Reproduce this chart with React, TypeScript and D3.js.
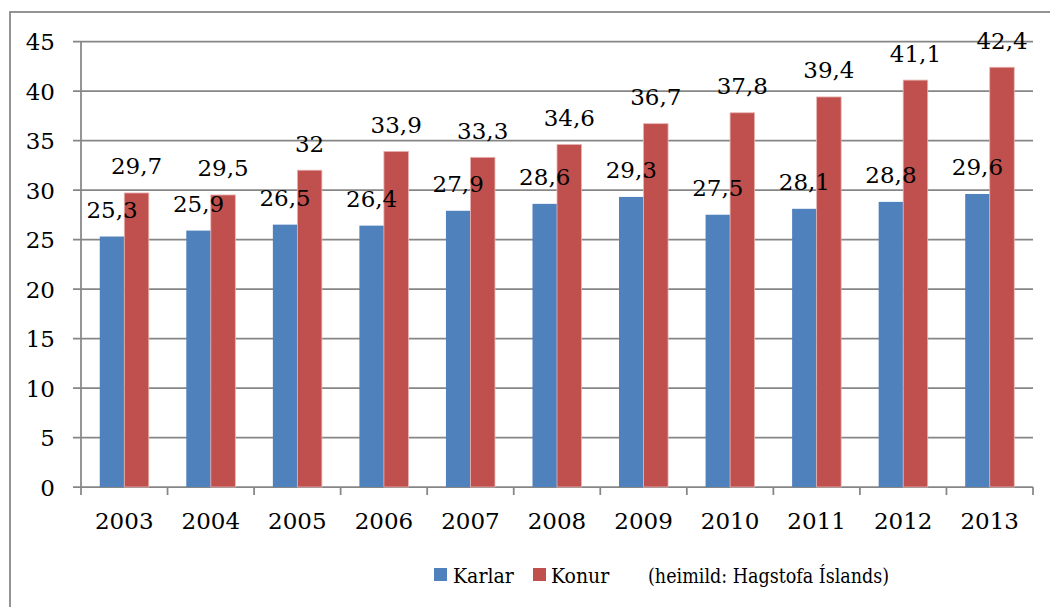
import React, { useEffect, useRef } from 'react'
import * as d3 from 'd3'

// Hlutfall (%) eftir árum – Karlar / Konur
const years = ['2003', '2004', '2005', '2006', '2007', '2008', '2009', '2010', '2011', '2012', '2013']
const karlar = [25.3, 25.9, 26.5, 26.4, 27.9, 28.6, 29.3, 27.5, 28.1, 28.8, 29.6]
const konur = [29.7, 29.5, 32, 33.9, 33.3, 34.6, 36.7, 37.8, 39.4, 41.1, 42.4]
const seriesNames = ['Karlar', 'Konur']
const yTicks = [0, 5, 10, 15, 20, 25, 30, 35, 40, 45]
const sourceNote = '(heimild: Hagstofa Íslands)'

const colors = { Karlar: '#4F81BD', Konur: '#C0504D' }

const W = 1050
const H = 607
const FONT = '"DejaVu Serif", "Liberation Serif", serif'
const LEGEND_FONT = '"DejaVu Serif Condensed", "DejaVu Serif", serif'

const App = () => {
  const svgRef = useRef<SVGSVGElement>(null)

  useEffect(() => {
    document.body.style.margin = '0'
    const svg = d3.select(svgRef.current)
    svg.selectAll('*').remove()

    const left = 81
    const right = 1033
    const top = 41.5
    const bottom = 487

    // outer chart frame (clipped at right/bottom like the original)
    svg.append('rect')
      .attr('x', 10)
      .attr('y', 12)
      .attr('width', W)
      .attr('height', H)
      .style('fill', '#fff')
      .style('stroke', '#868686')
      .style('stroke-width', 1.75)

    const x = d3.scaleBand<string>().domain(years).range([left, right]).padding(0)
    const x1 = d3.scaleBand<string>()
      .domain(seriesNames)
      .range([0, x.bandwidth()])
      .paddingInner(0)
      .paddingOuter(0.765)
    const y = d3.scaleLinear().domain([0, 45]).range([bottom, top])

    const g = svg.append('g')

    // gridlines
    g.selectAll('.grid')
      .data(yTicks)
      .enter()
      .append('line')
      .attr('x1', left - 8)
      .attr('x2', right)
      .attr('y1', d => y(d))
      .attr('y2', d => y(d))
      .style('stroke', '#868686')
      .style('stroke-width', 1.75)

    // y axis line
    g.append('line')
      .attr('x1', left)
      .attr('x2', left)
      .attr('y1', top)
      .attr('y2', bottom)
      .style('stroke', '#868686')
      .style('stroke-width', 1.75)

    // x ticks on category boundaries
    const boundaries = years.map(d => x(d) as number).concat([right])
    g.selectAll('.xtick')
      .data(boundaries)
      .enter()
      .append('line')
      .attr('x1', d => d)
      .attr('x2', d => d)
      .attr('y1', bottom)
      .attr('y2', bottom + 8)
      .style('stroke', '#868686')
      .style('stroke-width', 1.75)

    // y labels
    g.selectAll('.ylabel')
      .data(yTicks)
      .enter()
      .append('text')
      .attr('x', 55)
      .attr('y', d => y(d))
      .attr('dy', '0.38em')
      .attr('text-anchor', 'end')
      .style('font-family', FONT)
      .style('font-size', '23px')
      .style('fill', '#000')
      .text(d => d)

    // x labels
    g.selectAll('.xlabel')
      .data(years)
      .enter()
      .append('text')
      .attr('x', d => (x(d) as number) + x.bandwidth() / 2)
      .attr('y', 529)
      .attr('text-anchor', 'middle')
      .style('font-family', FONT)
      .style('font-size', '23px')
      .style('fill', '#000')
      .text(d => d)

    const rows = years.map((yr, i) => ({ yr, Karlar: karlar[i], Konur: konur[i] }))

    const groups = g.selectAll('.group')
      .data(rows)
      .enter()
      .append('g')
      .attr('transform', d => `translate(${x(d.yr)},0)`)

    // bars
    seriesNames.forEach(s => {
      groups.append('rect')
        .attr('x', x1(s) as number)
        .attr('y', d => y(d[s]))
        .attr('width', x1.bandwidth())
        .attr('height', d => bottom - y(d[s]))
        .style('fill', colors[s])
        .style('stroke', s === 'Konur' ? '#e8b4b3' : 'none')
        .style('stroke-width', 0.8)
    })

    // data labels (blue first, red on top)
    seriesNames.forEach(s => {
      groups.append('text')
        .attr('x', (x1(s) as number) + x1.bandwidth() / 2)
        .attr('y', d => y(d[s]) - 18.5)
        .attr('text-anchor', 'middle')
        .style('font-family', FONT)
        .style('font-size', '23px')
        .style('fill', '#000')
        .text(d => String(d[s]).replace('.', ','))
    })

    // legend
    const legend = svg.append('g').attr('transform', 'translate(434,568)')
    const items = [
      { name: 'Karlar', sx: 0, tx: 19 },
      { name: 'Konur', sx: 99, tx: 117 }
    ]
    items.forEach(it => {
      legend.append('rect')
        .attr('x', it.sx)
        .attr('y', 0)
        .attr('width', 13)
        .attr('height', 13)
        .style('fill', colors[it.name])
      legend.append('text')
        .attr('x', it.tx)
        .attr('y', 15)
        .style('font-family', LEGEND_FONT)
        .style('font-size', '21px')
        .style('fill', '#000')
        .text(it.name)
    })
    legend.append('text')
      .attr('x', 214)
      .attr('y', 15)
      .style('font-family', LEGEND_FONT)
      .style('font-size', '19.5px')
      .style('fill', '#000')
      .text(sourceNote)
  }, [])

  return (
    <svg
      ref={svgRef}
      width={W}
      height={H}
      style={{ position: 'absolute', left: 0, top: 0, background: '#fff' }}
    />
  )
}

export default App
